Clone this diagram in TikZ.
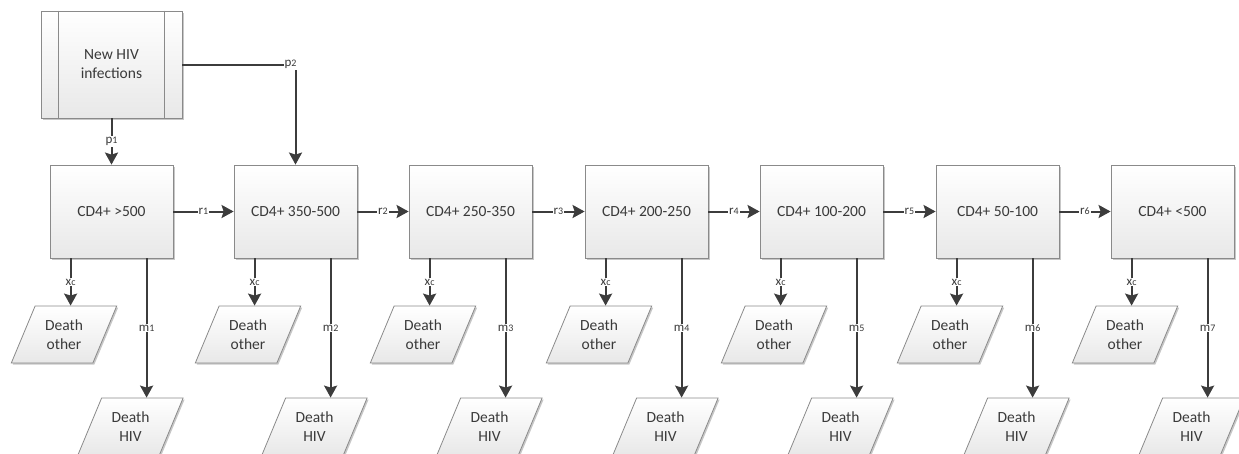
\documentclass[tikz,border=0pt]{standalone}
\usepackage{fontspec}
\setmainfont{Carlito}
\usetikzlibrary{shapes.geometric,arrows.meta,shadows}
\definecolor{edgegray}{HTML}{8A8A8A}
\definecolor{inkgray}{HTML}{3A3A3A}
\definecolor{arrgray}{HTML}{3C3C3C}
\newcommand{\lb}[2]{{\fontsize{13}{14}\selectfont #1\fontsize{10}{10}\selectfont #2}}
\begin{document}
\begin{tikzpicture}[x=1pt,y=-1pt,
  shd/.style={drop shadow={shadow xshift=1.5pt,shadow yshift=-1.5pt,opacity=0.22,fill=black}},
  cdbox/.style={draw=edgegray, line width=0.8pt, top color=white, bottom color=black!9,
    minimum width=123pt, minimum height=93pt, inner sep=0pt, text=inkgray,
    font=\fontsize{15.5}{18}\selectfont, shd},
  newbox/.style={cdbox, minimum width=141pt, minimum height=107pt, align=center,
    font=\fontsize{15.5}{19}\selectfont},
  para/.style={trapezium, trapezium left angle=62, trapezium right angle=118,
    trapezium stretches=true, minimum width=106pt, minimum height=57pt,
    inner sep=0pt, draw=edgegray, line width=0.8pt, top color=white, bottom color=black!9,
    text=inkgray, align=center, font=\fontsize{15.5}{18.5}\selectfont, shd},
  flow/.style={draw=arrgray, line width=2pt, -{Stealth[length=12pt,width=13pt,inset=2pt]}},
  lab/.style={fill=white, inner sep=1pt, text=inkgray}]
\clip (0,0) rectangle (1239,453);
\useasboundingbox (0,0) rectangle (1239,453);
\node[newbox] (new) at (111.5,64.5) {New HIV\\infections};
\draw[edgegray, line width=0.8pt] ([xshift=18pt]new.north west) -- ([xshift=18pt]new.south west);
\draw[edgegray, line width=0.8pt] ([xshift=-18pt]new.north east) -- ([xshift=-18pt]new.south east);
\foreach \i/\L/\t in {1/50/{>500},2/234/{350-500},3/409/{250-350},4/585/{200-250},5/760/{100-200},6/936/{50-100},7/1111/{<500}}{
  \node[cdbox] (c\i) at (\L+61.5,211.5) {CD4+ \t};
  \node[para] (o\i) at (\L+14,334.5) {Death\\other};
  \node[para] (h\i) at (\L+80.5,426.5) {Death\\HIV};
  \draw[flow] ([xshift=21pt]c\i.south west) coordinate (s\i) -- node[lab]{\lb{x}{c}} (s\i |- o\i.north);
  \draw[flow] ([xshift=97pt]c\i.south west) coordinate (t\i) -- node[lab]{\lb{m}{\i}} (t\i |- h\i.north);
}
\foreach \a/\b in {1/2,2/3,3/4,4/5,5/6,6/7}{
  \draw[flow] (c\a.east) -- node[lab]{\lb{r}{\a}} (c\b.west);
}
\draw[flow] (new.south) -- node[lab]{\lb{p}{1}} (c1.north);
\draw[flow] (new.east) -| node[lab, pos=0.5, xshift=-5pt]{\lb{p}{2}} (c2.north);
\end{tikzpicture}
\end{document}
